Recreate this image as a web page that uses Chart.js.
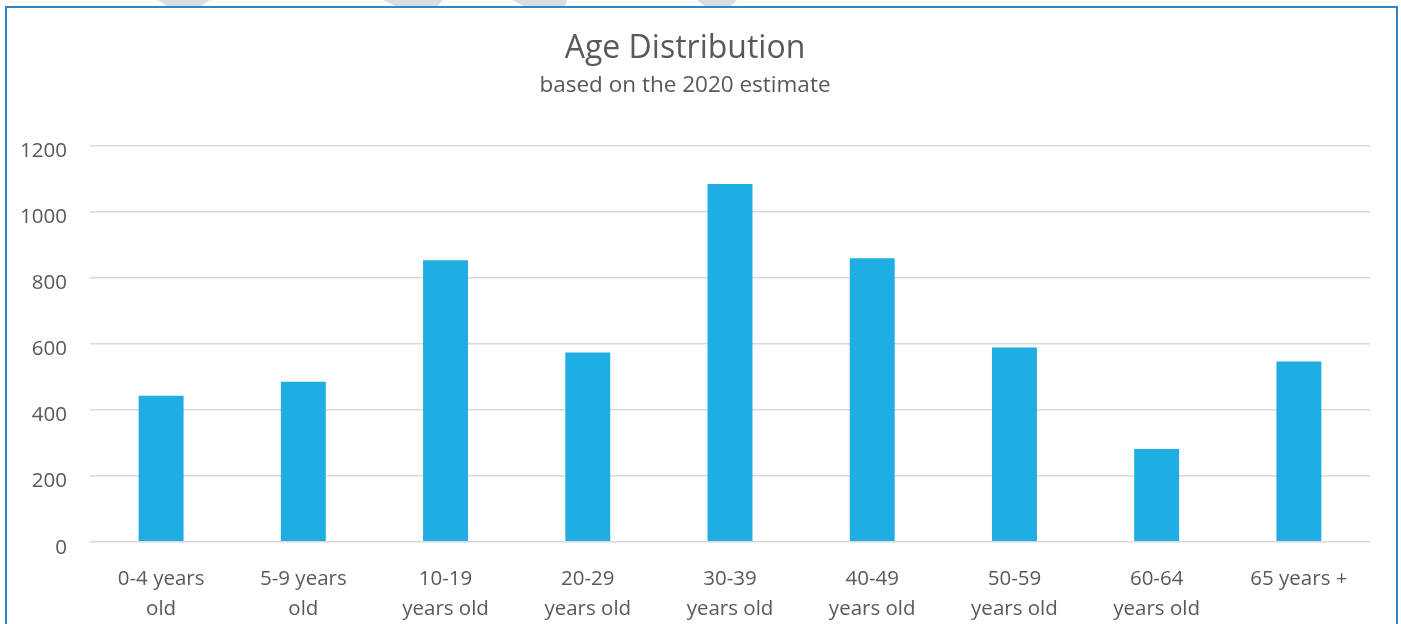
<!DOCTYPE html>
<html>
<head>
<meta charset="utf-8">
<script src="https://cdn.jsdelivr.net/npm/chart.js@4/dist/chart.umd.min.js"></script>
<style>
  html, body { margin: 0; padding: 0; background: #ffffff; }
  #wrap { position: relative; width: 1401px; height: 624px; }
</style>
</head>
<body>
<div id="wrap"><canvas id="c" width="1401" height="624"></canvas></div>
<script>
const categories = [
  ['0-4 years', 'old'],
  ['5-9 years', 'old'],
  ['10-19', 'years old'],
  ['20-29', 'years old'],
  ['30-39', 'years old'],
  ['40-49', 'years old'],
  ['50-59', 'years old'],
  ['60-64', 'years old'],
  '65 years +'
];
const population = [442, 484, 852, 573, 1083, 858, 588, 281, 546];
const yTicks = [0, 200, 400, 600, 800, 1000, 1200];
const titleText = 'Age Distribution';
const subtitleText = 'based on the 2020 estimate';

const FONT = "'Open Sans', 'Noto Sans', sans-serif";
const TEXT = '#595959';

const frame = {
  id: 'frame',
  beforeDraw(chart) {
    const ctx = chart.ctx;
    ctx.save();
    ctx.fillStyle = '#ffffff';
    ctx.fillRect(0, 0, chart.width, chart.height);
    // faint decorative stripes above the frame
    ctx.fillStyle = '#dcdcdc';
    const stripes = [[158, 210, 168, 200], [383, 443, 397, 437], [512, 567, 526, 565], [697, 737, 706, 730]];
    stripes.forEach(s => {
      ctx.beginPath();
      ctx.moveTo(s[0], 0); ctx.lineTo(s[1], 0); ctx.lineTo(s[3], 7); ctx.lineTo(s[2], 7);
      ctx.closePath(); ctx.fill();
    });
    ctx.strokeStyle = '#2E86C8';
    ctx.lineWidth = 2;
    ctx.strokeRect(6, 7, 1391, 700);
    ctx.restore();
  }
};

new Chart(document.getElementById('c'), {
  type: 'bar',
  data: {
    labels: categories,
    datasets: [{
      data: population,
      backgroundColor: '#1FADE3',
      borderWidth: 0,
      barPercentage: 0.316,
      categoryPercentage: 1
    }]
  },
  plugins: [frame],
  options: {
    responsive: false,
    animation: false,
    devicePixelRatio: 1,
    layout: { padding: { left: 0, right: 31, top: 0, bottom: 0 } },
    plugins: {
      legend: { display: false },
      tooltip: { enabled: false },
      title: {
        display: true,
        text: titleText,
        color: TEXT,
        font: { family: FONT, size: 32, weight: 'normal', lineHeight: 1.2 },
        padding: { top: 30, bottom: 4 }
      },
      subtitle: {
        display: true,
        text: subtitleText,
        color: TEXT,
        font: { family: FONT, size: 22.5, weight: 'normal', lineHeight: 1.2 },
        padding: { top: 0, bottom: 46 }
      }
    },
    scales: {
      x: {
        grid: { display: false },
        border: { display: false },
        ticks: {
          color: TEXT,
          font: { family: FONT, size: 20.5, lineHeight: '30px' },
          padding: 14,
          maxRotation: 0,
          autoSkip: false
        },
        afterFit(scale) { scale.height = 82.3; }
      },
      y: {
        min: 0,
        max: 1200,
        afterBuildTicks(scale) { scale.ticks = yTicks.map(v => ({ value: v })); },
        grid: { color: '#d9d9d9', lineWidth: 1.5, drawTicks: false },
        border: { display: false },
        ticks: {
          color: TEXT,
          font: { family: FONT, size: 20.5 },
          padding: 23,
          labelOffset: 6,
          callback: v => String(v)
        },
        afterFit(scale) { scale.width = 90; }
      }
    }
  }
});
</script>
</body>
</html>
